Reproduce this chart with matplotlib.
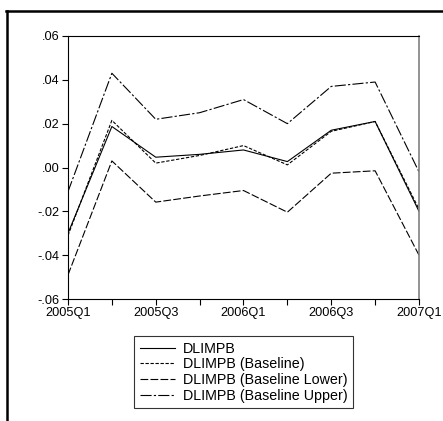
import matplotlib.pyplot as plt
from matplotlib.lines import Line2D

plt.rcParams['font.family'] = ['Liberation Sans', 'DejaVu Sans']

quarters = ['2005Q1', '2005Q2', '2005Q3', '2005Q4', '2006Q1',
            '2006Q2', '2006Q3', '2006Q4', '2007Q1']
dlimpb = [-0.030, 0.0187, 0.0047, 0.006, 0.008, 0.0027, 0.017, 0.021, -0.020]
baseline = [-0.031, 0.0215, 0.002, 0.0055, 0.010, 0.0012, 0.0165, 0.021, -0.019]
lower = [-0.049, 0.003, -0.0158, -0.013, -0.0105, -0.0204, -0.0026, -0.0015, -0.040]
upper = [-0.011, 0.043, 0.022, 0.025, 0.031, 0.020, 0.037, 0.039, -0.002]

yticks = [-0.06, -0.04, -0.02, 0.0, 0.02, 0.04, 0.06]
ytick_labels = ['-.06', '-.04', '-.02', '.00', '.02', '.04', '.06']

fig = plt.figure(figsize=(4.43, 4.21), dpi=100)
ax = fig.add_axes([68 / 443, 1 - 299 / 421, 351 / 443, 263 / 421])

x = list(range(len(quarters)))
lw = 0.8
ax.plot(x, dlimpb, color='black', lw=lw, label='DLIMPB')
ax.plot(x, baseline, color='black', lw=lw, dashes=(3, 1.5), label='DLIMPB (Baseline)')
ax.plot(x, lower, color='black', lw=lw, dashes=(7, 2), label='DLIMPB (Baseline Lower)')
ax.plot(x, upper, color='black', lw=lw, dashes=(10, 2, 2, 2), label='DLIMPB (Baseline Upper)')

ax.set_xlim(0, 8)
ax.set_ylim(-0.06, 0.06)
ax.set_yticks(yticks)
ax.set_yticklabels(ytick_labels)
ax.set_xticks(x[::2])
ax.set_xticklabels(quarters[::2])
ax.set_xticks(x, minor=True)
ax.tick_params(axis='both', direction='out', length=4, width=0.8, labelsize=9.2, pad=2)
ax.tick_params(axis='x', which='minor', length=4, width=0.8)
for s in ax.spines.values():
    s.set_linewidth(0.8)
ax.spines['right'].set_color('#808080')
ax.spines['right'].set_linewidth(1.2)

leg = ax.legend(loc='upper center', bbox_to_anchor=(0.5, -0.14), frameon=True,
                fancybox=False, fontsize=10.3, handlelength=2.5, handletextpad=0.5,
                borderpad=0.4, labelspacing=0.12, borderaxespad=0)
leg.get_frame().set_edgecolor('black')
leg.get_frame().set_linewidth(0.8)

# outer frame (left and top)
fig.add_artist(Line2D([7 / 443, 7 / 443], [0, 1 - 11 / 421], color='black', lw=1.8,
                      transform=fig.transFigure))
fig.add_artist(Line2D([6 / 443, 1], [1 - 11 / 421, 1 - 11 / 421], color='black', lw=1.8,
                      transform=fig.transFigure))

fig.savefig('out.png', dpi=100)
